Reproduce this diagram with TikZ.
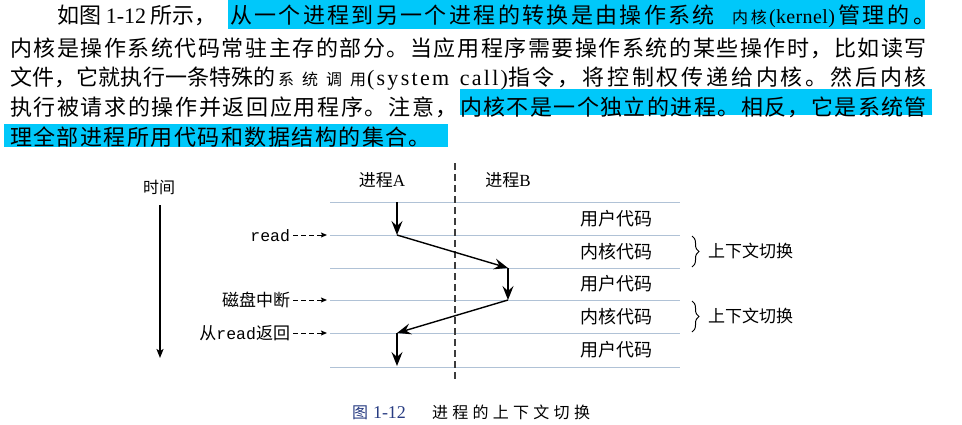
\documentclass[tikz,border=0pt]{standalone}
\usepackage{fontspec}
\setmainfont{Liberation Serif}
\newfontfamily\cjk{Noto Sans CJK SC}
\newfontfamily\mono{Liberation Mono}
\usetikzlibrary{arrows.meta,decorations.pathreplacing}
\definecolor{hl}{RGB}{0,200,250}
\definecolor{gridc}{RGB}{176,194,214}
\definecolor{capblue}{RGB}{40,60,130}
\definecolor{divc}{RGB}{60,60,60}
\def\sprA#1{\ifx\relax#1\else#1\hskip0pt plus 1fil\relax\expandafter\sprA\fi}
\newcommand\spr[1]{\sprA#1\relax}
\tikzset{
  seg/.style={inner sep=0pt,outer sep=0pt,anchor=west,text height=18.3pt,text depth=1.5pt,font=\cjk\fontsize{22}{22}\selectfont},
  lab16/.style={inner sep=0pt,outer sep=0pt,text height=13.3pt,text depth=1.1pt,font=\cjk\fontsize{16}{16}\selectfont},
  lab17/.style={inner sep=0pt,outer sep=0pt,text height=14.1pt,text depth=1.2pt,font=\cjk\fontsize{17}{17}\selectfont},
  lab18/.style={inner sep=0pt,outer sep=0pt,text height=15pt,text depth=1.3pt,font=\cjk\fontsize{18}{18}\selectfont},
  gridline/.style={draw=gridc,line width=0.8pt},
  divider/.style={draw=divc,line width=1.3pt,dash pattern=on 7pt off 4pt},
  flow/.style={line width=1.4pt,-{Stealth[length=14pt,width=11pt,inset=5pt]}},
  timearrow/.style={line width=1.3pt,-{Stealth[length=9pt,width=7pt,inset=2pt]}},
  dasharr/.style={line width=1pt,dash pattern=on 5pt off 3pt,-{Stealth[length=6pt,width=5pt,inset=1pt]}},
  bracestyle/.style={decorate,decoration={brace,amplitude=7pt},line width=1pt},
}
\newcommand\seg[5]{\node[seg] (#1) at (#2,#3) {\hbox to #4pt{#5\unskip}};}
\begin{document}
\begin{tikzpicture}[x=1pt,y=-1pt]
\fill[white] (0,0) rectangle (962,424);
\useasboundingbox (0,0) rectangle (962,424);
% highlights
\fill[hl] (228,0) rectangle (925,29);
\fill[hl] (460,89) rectangle (932,115);
\fill[hl] (4,124) rectangle (448,147);
% paragraph
\seg{t1a}{57}{15}{160}{\spr{如图}\hskip4pt plus 1fil\relax{\rmfamily 1-12}\hskip4pt plus 1fil\relax\spr{所示，}}
\seg{t1b}{230}{15}{485}{\spr{从一个进程到另一个进程的转换是由操作系统}}
\seg{t1c}{732}{15}{35}{\fontsize{16}{16}\selectfont\spr{内核}}
\seg{t1d}{769}{15}{66}{\rmfamily\fontsize{20}{20}\selectfont\spr{(kernel)}}
\seg{t1e}{838}{15}{97}{\spr{管理的。}}
\seg{t2}{10}{48}{917}{\spr{内核是操作系统代码常驻主存的部分。当应用程序需要操作系统的某些操作时，比如读写}}
\seg{t3a}{10}{77}{266}{\spr{文件，它就执行一条特殊的}}
\seg{t3b}{278}{77}{88}{\fontsize{16}{16}\selectfont\spr{系统调用}}
\seg{t3c}{367}{77}{141}{\rmfamily\fontsize{22}{22}\selectfont\spr{(system}\hskip 6pt plus 1fil\relax\spr{call)}}
\seg{t3d}{508}{77}{419}{\spr{指令，将控制权传递给内核。然后内核}}
\seg{t4a}{10}{107}{448}{\spr{执行被请求的操作并返回应用程序。注意，}}
\seg{t4b}{460}{107}{467}{\spr{内核不是一个独立的进程。相反，它是系统管}}
\seg{t5}{10}{137}{421}{\spr{理全部进程所用代码和数据结构的集合。}}
% grid lines
\foreach \i/\y in {1/202,2/235,3/268,4/300,5/333,6/367}{
  \coordinate (hw\i) at (330,\y);
  \coordinate (he\i) at (680,\y);
  \draw[gridline] (hw\i) -- (he\i);
}
% divider
\coordinate (dtop) at (455,163);
\coordinate (dbot) at (455,379);
\draw[divider] (dtop) -- (dbot);
% headings
\node[lab17] (pA) at (382,180) {进程{\rmfamily A}};
\node[lab17] (pB) at (508,180) {进程{\rmfamily B}};
\node[lab16] (time) at (159,187) {时间};
\coordinate (t0) at (160,205);
\coordinate (t1) at (160,358);
\draw[timearrow] (t0) -- (t1);
% flow
\coordinate (a1) at (397,202);
\coordinate (a2) at (397,235);
\coordinate (b1) at (508,268);
\coordinate (b2) at (508,300);
\coordinate (a3) at (397,333);
\coordinate (a4) at (397,366);
\draw[flow] (a1) -- (a2);
\draw[flow] (a2) -- (b1);
\draw[flow] (b1) -- (b2);
\draw[flow] (b2) -- (a3);
\draw[flow] (a3) -- (a4);
% left labels
\node[lab17,anchor=east] (lread) at (290,235) {\mono\fontsize{16.5}{16.5}\selectfont read};
\node[lab17,anchor=east] (ldisk) at (290,300) {磁盘中断};
\node[lab17,anchor=east] (lret) at (290,333) {从{\mono\fontsize{16.5}{16.5}\selectfont read}返回};
\draw[dasharr] ([xshift=3pt]lread.east) -- ([xshift=-3pt]hw2);
\draw[dasharr] ([xshift=3pt]ldisk.east) -- ([xshift=-3pt]hw4);
\draw[dasharr] ([xshift=3pt]lret.east) -- ([xshift=-3pt]hw5);
% right labels
\node[lab18] (u1) at (616,218.5) {用户代码};
\node[lab18] (k1) at (616,251.5) {内核代码};
\node[lab18] (u2) at (616,284) {用户代码};
\node[lab18] (k2) at (616,316.5) {内核代码};
\node[lab18] (u3) at (616,350) {用户代码};
% braces
\coordinate (br1t) at (692,236);
\coordinate (br1b) at (692,267);
\coordinate (br2t) at (692,301);
\coordinate (br2b) at (692,332);
\draw[bracestyle] (br1t) -- (br1b);
\draw[bracestyle] (br2t) -- (br2b);
\node[lab17,anchor=west] (cs1) at (708,251.5) {上下文切换};
\node[lab17,anchor=west] (cs2) at (708,316.5) {上下文切换};
% caption
\node[lab16,anchor=west,text=capblue] (capn) at (352,412) {图\hskip5pt{\rmfamily\fontsize{18}{18}\selectfont 1-12}};
\node[lab16,anchor=west] (capt) at (432,412) {\hbox to 158pt{\spr{进程的上下文切换}\unskip}};
\end{tikzpicture}
\end{document}
